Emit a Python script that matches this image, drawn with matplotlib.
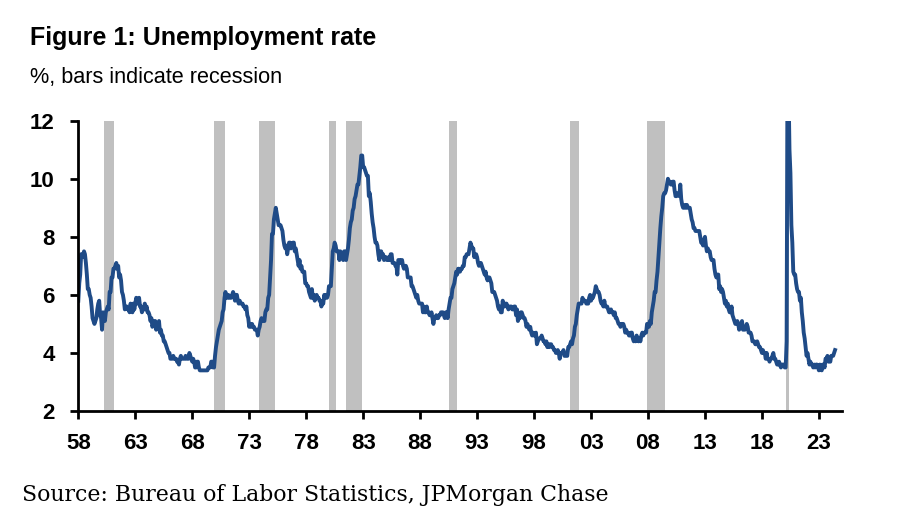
import numpy as np
import matplotlib
matplotlib.use("Agg")
import matplotlib.pyplot as plt

# monthly US unemployment rate, Jan 1958 .. Jun 2024 (%)
unrate_by_year = {
    1958: [5.8, 6.4, 6.7, 7.4, 7.4, 7.3, 7.5, 7.4, 7.1, 6.7, 6.2, 6.2],
    1959: [6.0, 5.9, 5.6, 5.2, 5.1, 5.0, 5.1, 5.2, 5.5, 5.7, 5.8, 5.3],
    1960: [5.2, 4.8, 5.4, 5.2, 5.1, 5.4, 5.5, 5.6, 5.5, 6.1, 6.1, 6.6],
    1961: [6.6, 6.9, 6.9, 7.0, 7.1, 6.9, 7.0, 6.6, 6.7, 6.5, 6.1, 6.0],
    1962: [5.8, 5.5, 5.6, 5.6, 5.5, 5.5, 5.4, 5.7, 5.6, 5.4, 5.7, 5.5],
    1963: [5.7, 5.9, 5.7, 5.7, 5.9, 5.6, 5.6, 5.4, 5.5, 5.5, 5.7, 5.5],
    1964: [5.6, 5.4, 5.4, 5.3, 5.1, 5.2, 4.9, 5.0, 5.1, 5.1, 4.8, 5.0],
    1965: [4.9, 5.1, 4.7, 4.8, 4.6, 4.6, 4.4, 4.4, 4.3, 4.2, 4.1, 4.0],
    1966: [4.0, 3.8, 3.8, 3.8, 3.9, 3.8, 3.8, 3.8, 3.7, 3.7, 3.6, 3.8],
    1967: [3.9, 3.8, 3.8, 3.8, 3.8, 3.9, 3.8, 3.8, 3.8, 4.0, 3.9, 3.8],
    1968: [3.7, 3.8, 3.7, 3.5, 3.5, 3.7, 3.7, 3.5, 3.4, 3.4, 3.4, 3.4],
    1969: [3.4, 3.4, 3.4, 3.4, 3.4, 3.5, 3.5, 3.5, 3.7, 3.7, 3.5, 3.5],
    1970: [3.9, 4.2, 4.4, 4.6, 4.8, 4.9, 5.0, 5.1, 5.4, 5.5, 5.9, 6.1],
    1971: [5.9, 5.9, 6.0, 5.9, 5.9, 5.9, 6.0, 6.1, 6.0, 5.8, 6.0, 6.0],
    1972: [5.8, 5.7, 5.8, 5.7, 5.7, 5.7, 5.6, 5.6, 5.5, 5.6, 5.3, 5.2],
    1973: [4.9, 5.0, 4.9, 5.0, 4.9, 4.9, 4.8, 4.8, 4.8, 4.6, 4.8, 4.9],
    1974: [5.1, 5.2, 5.1, 5.1, 5.1, 5.4, 5.5, 5.5, 5.9, 6.0, 6.6, 7.2],
    1975: [8.1, 8.1, 8.6, 8.8, 9.0, 8.8, 8.6, 8.4, 8.4, 8.4, 8.3, 8.2],
    1976: [7.9, 7.7, 7.6, 7.7, 7.4, 7.6, 7.8, 7.8, 7.6, 7.7, 7.8, 7.8],
    1977: [7.5, 7.6, 7.4, 7.2, 7.0, 7.2, 6.9, 7.0, 6.8, 6.8, 6.8, 6.4],
    1978: [6.4, 6.3, 6.3, 6.1, 6.0, 5.9, 6.2, 5.9, 6.0, 5.8, 5.9, 6.0],
    1979: [5.9, 5.9, 5.8, 5.8, 5.6, 5.7, 5.7, 6.0, 5.9, 6.0, 5.9, 6.0],
    1980: [6.3, 6.3, 6.3, 6.9, 7.5, 7.6, 7.8, 7.7, 7.5, 7.5, 7.5, 7.2],
    1981: [7.5, 7.4, 7.4, 7.2, 7.5, 7.5, 7.2, 7.4, 7.6, 7.9, 8.3, 8.5],
    1982: [8.6, 8.9, 9.0, 9.3, 9.4, 9.6, 9.8, 9.8, 10.1, 10.4, 10.8, 10.8],
    1983: [10.4, 10.4, 10.3, 10.2, 10.1, 10.1, 9.4, 9.5, 9.2, 8.8, 8.5, 8.3],
    1984: [8.0, 7.8, 7.8, 7.7, 7.4, 7.2, 7.5, 7.5, 7.3, 7.4, 7.2, 7.3],
    1985: [7.3, 7.2, 7.2, 7.3, 7.2, 7.4, 7.4, 7.1, 7.1, 7.1, 7.0, 7.0],
    1986: [6.7, 7.2, 7.2, 7.1, 7.2, 7.2, 7.0, 6.9, 7.0, 7.0, 6.9, 6.6],
    1987: [6.6, 6.6, 6.6, 6.3, 6.3, 6.2, 6.1, 6.0, 5.9, 6.0, 5.8, 5.7],
    1988: [5.7, 5.7, 5.7, 5.4, 5.6, 5.4, 5.4, 5.6, 5.4, 5.4, 5.3, 5.3],
    1989: [5.4, 5.2, 5.0, 5.2, 5.2, 5.3, 5.2, 5.2, 5.3, 5.3, 5.4, 5.4],
    1990: [5.4, 5.3, 5.2, 5.4, 5.4, 5.2, 5.5, 5.7, 5.9, 5.9, 6.2, 6.3],
    1991: [6.4, 6.6, 6.8, 6.7, 6.9, 6.9, 6.8, 6.9, 6.9, 7.0, 7.0, 7.3],
    1992: [7.3, 7.4, 7.4, 7.4, 7.6, 7.8, 7.7, 7.6, 7.6, 7.3, 7.4, 7.4],
    1993: [7.3, 7.1, 7.0, 7.1, 7.1, 7.0, 6.9, 6.8, 6.7, 6.8, 6.6, 6.5],
    1994: [6.6, 6.6, 6.5, 6.4, 6.1, 6.1, 6.1, 6.0, 5.9, 5.8, 5.6, 5.5],
    1995: [5.6, 5.4, 5.4, 5.8, 5.6, 5.6, 5.7, 5.7, 5.6, 5.5, 5.6, 5.6],
    1996: [5.6, 5.5, 5.5, 5.6, 5.6, 5.3, 5.5, 5.1, 5.2, 5.2, 5.4, 5.4],
    1997: [5.3, 5.2, 5.2, 5.1, 4.9, 5.0, 4.9, 4.8, 4.9, 4.7, 4.6, 4.7],
    1998: [4.6, 4.6, 4.7, 4.3, 4.4, 4.5, 4.5, 4.5, 4.6, 4.5, 4.4, 4.4],
    1999: [4.3, 4.4, 4.2, 4.3, 4.2, 4.3, 4.3, 4.2, 4.2, 4.1, 4.1, 4.0],
    2000: [4.0, 4.1, 4.0, 3.8, 4.0, 4.0, 4.0, 4.1, 3.9, 3.9, 3.9, 3.9],
    2001: [4.2, 4.2, 4.3, 4.4, 4.3, 4.5, 4.6, 4.9, 5.0, 5.3, 5.5, 5.7],
    2002: [5.7, 5.7, 5.7, 5.9, 5.8, 5.8, 5.8, 5.7, 5.7, 5.7, 5.9, 6.0],
    2003: [5.8, 5.9, 5.9, 6.0, 6.1, 6.3, 6.2, 6.1, 6.1, 6.0, 5.8, 5.7],
    2004: [5.7, 5.6, 5.8, 5.6, 5.6, 5.6, 5.5, 5.4, 5.4, 5.5, 5.4, 5.4],
    2005: [5.3, 5.4, 5.2, 5.2, 5.1, 5.0, 5.0, 4.9, 5.0, 5.0, 5.0, 4.9],
    2006: [4.7, 4.8, 4.7, 4.7, 4.6, 4.6, 4.7, 4.7, 4.5, 4.4, 4.5, 4.4],
    2007: [4.6, 4.5, 4.4, 4.5, 4.4, 4.6, 4.7, 4.6, 4.7, 4.7, 4.7, 5.0],
    2008: [5.0, 4.9, 5.1, 5.0, 5.4, 5.6, 5.8, 6.1, 6.1, 6.5, 6.8, 7.3],
    2009: [7.8, 8.3, 8.7, 9.0, 9.4, 9.5, 9.5, 9.6, 9.8, 10.0, 9.9, 9.9],
    2010: [9.8, 9.8, 9.9, 9.9, 9.6, 9.4, 9.4, 9.5, 9.5, 9.4, 9.8, 9.3],
    2011: [9.1, 9.0, 9.0, 9.1, 9.0, 9.1, 9.0, 9.0, 9.0, 8.8, 8.6, 8.5],
    2012: [8.3, 8.3, 8.2, 8.2, 8.2, 8.2, 8.2, 8.0, 7.8, 7.8, 7.7, 7.9],
    2013: [8.0, 7.7, 7.5, 7.6, 7.5, 7.5, 7.3, 7.2, 7.2, 7.2, 6.9, 6.7],
    2014: [6.6, 6.7, 6.7, 6.2, 6.3, 6.1, 6.2, 6.1, 5.9, 5.7, 5.8, 5.6],
    2015: [5.7, 5.5, 5.4, 5.4, 5.6, 5.3, 5.2, 5.1, 5.0, 5.0, 5.1, 5.0],
    2016: [4.8, 4.9, 5.0, 5.1, 4.8, 4.9, 4.8, 4.9, 5.0, 4.9, 4.7, 4.7],
    2017: [4.7, 4.6, 4.4, 4.4, 4.4, 4.3, 4.3, 4.4, 4.3, 4.2, 4.2, 4.1],
    2018: [4.0, 4.1, 4.0, 4.0, 3.8, 4.0, 3.8, 3.8, 3.7, 3.8, 3.8, 3.9],
    2019: [4.0, 3.8, 3.8, 3.7, 3.6, 3.6, 3.7, 3.6, 3.5, 3.6, 3.6, 3.6],
    2020: [3.5, 3.5, 4.4, 14.8, 13.2, 11.0, 10.2, 8.4, 7.8, 6.8, 6.7, 6.7],
    2021: [6.4, 6.2, 6.1, 6.1, 5.8, 5.9, 5.4, 5.1, 4.7, 4.5, 4.2, 3.9],
    2022: [4.0, 3.8, 3.6, 3.7, 3.6, 3.6, 3.5, 3.6, 3.5, 3.6, 3.6, 3.5],
    2023: [3.4, 3.6, 3.5, 3.4, 3.6, 3.6, 3.5, 3.8, 3.8, 3.9, 3.7, 3.7],
    2024: [3.7, 3.9, 3.9, 3.9, 4.0, 4.1],
}

# NBER recessions: (peak year, month), (trough year, month)
recessions = [
    ((1960, 4), (1961, 2)),
    ((1969, 12), (1970, 11)),
    ((1973, 11), (1975, 3)),
    ((1980, 1), (1980, 7)),
    ((1981, 7), (1982, 11)),
    ((1990, 7), (1991, 3)),
    ((2001, 3), (2001, 11)),
    ((2007, 12), (2009, 6)),
    ((2020, 2), (2020, 4)),
]

tick_years = list(range(1958, 2024, 5))
yticks = [2, 4, 6, 8, 10, 12]

NAVY = "#1f4b87"
BAR_GREY = "#c0c0c0"
SANS = ["Liberation Sans", "DejaVu Sans"]

dates, values = [], []
for year, months in unrate_by_year.items():
    for m, v in enumerate(months):
        dates.append(year + m / 12)
        values.append(v)
dates = np.array(dates)
values = np.array(values)

fig = plt.figure(figsize=(8.98, 5.24), dpi=100)
ax = fig.add_axes([0.0872, 0.2156, 0.8501, 0.5541])

for (y0, m0), (y1, m1) in recessions:
    ax.axvspan(y0 + (m0 - 1) / 12, y1 + m1 / 12, color=BAR_GREY, lw=0, zorder=1)

ax.plot(dates, values, color=NAVY, lw=2.8, zorder=3, solid_joinstyle="round")

ax.set_xlim(1958, 2025)
ax.set_ylim(2, 12)
ax.set_xticks(tick_years)
ax.set_xticklabels([f"{y % 100:02d}" for y in tick_years])
ax.set_yticks(yticks)

for side in ("top", "right"):
    ax.spines[side].set_visible(False)
for side in ("left", "bottom"):
    ax.spines[side].set_linewidth(2)
    ax.spines[side].set_zorder(4)

ax.tick_params(axis="both", direction="out", length=6, width=2, labelsize=16)
ax.tick_params(axis="y", pad=11)
ax.tick_params(axis="x", pad=10)
for lbl in ax.get_xticklabels() + ax.get_yticklabels():
    lbl.set_family(SANS)
    lbl.set_fontweight("bold")

fig.text(0.033, 0.927, "Figure 1: Unemployment rate", family=SANS,
         fontsize=18, fontweight="bold", va="center", ha="left")
fig.text(0.033, 0.852, "%, bars indicate recession", family=SANS,
         fontsize=15.6, va="center", ha="left")
fig.text(0.024, 0.055, "Source: Bureau of Labor Statistics, JPMorgan Chase",
         family="DejaVu Serif", fontsize=15.8, va="center", ha="left")

fig.savefig("out.png", dpi=100)
